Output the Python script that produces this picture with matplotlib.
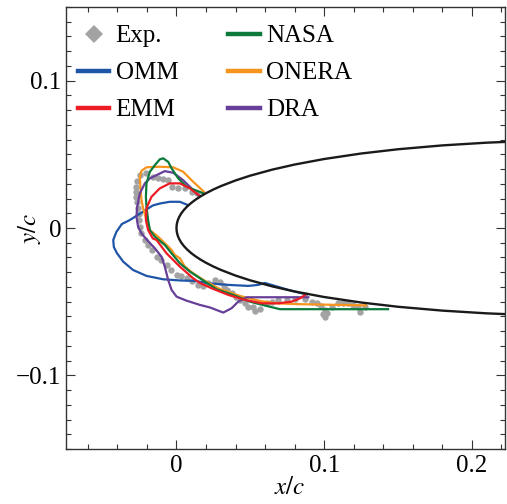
import numpy as np
import matplotlib
matplotlib.use('Agg')
import matplotlib.pyplot as plt
from matplotlib.lines import Line2D
from matplotlib.ticker import MultipleLocator

plt.rcParams['font.family'] = ['Liberation Serif', 'DejaVu Serif']
plt.rcParams['mathtext.fontset'] = 'stix'

# NACA 0012 half-thickness ordinates (x/c, y/c)
foil_x = [0.0, 0.0002, 0.0008, 0.0018, 0.0032, 0.005, 0.0072, 0.0098, 0.0128, 0.0162,
          0.02, 0.025, 0.03, 0.04, 0.05, 0.065, 0.08, 0.1, 0.125, 0.15, 0.18, 0.21, 0.24]
foil_y = [0.0, 0.002504, 0.004978, 0.007421, 0.009833, 0.012213, 0.014561, 0.016874,
          0.019152, 0.021394, 0.023598, 0.026147, 0.028402, 0.032277, 0.035547, 0.039658,
          0.043072, 0.046828, 0.050554, 0.053452, 0.056066, 0.057916, 0.059131]

# experimental ice shape
exp_x = [0.0136, 0.0102, 0.0057, 0.0012, -0.0033, -0.0056, -0.0092, -0.0124, -0.0160, -0.0203,
         -0.0248, -0.0265, -0.0271, -0.0271, -0.0271, -0.0265, -0.0260, -0.0255, -0.0252, -0.0248,
         -0.0237, -0.0214, -0.0192, -0.0167, -0.0135, -0.0106, -0.0067, -0.0038, 0.0001, 0.0033,
         0.0068, 0.0102, 0.0147, 0.0179, 0.0215, 0.0260, 0.0294, 0.0321, 0.0340, 0.0374,
         0.0403, 0.0430, 0.0464, 0.0486, 0.0520, 0.0532, 0.0565, 0.0611, 0.0645, 0.0690,
         0.0746, 0.0803, 0.0871, 0.0916, 0.0950, 0.0979, 0.1006, 0.1018, 0.0995, 0.1006,
         0.1052, 0.1096, 0.1128, 0.1164, 0.1196, 0.1232, 0.1243, 0.1277]
exp_y = [0.0235, 0.0246, 0.0269, 0.0269, 0.0280, 0.0325, 0.0336, 0.0337, 0.0349, 0.0371,
         0.0359, 0.0319, 0.0280, 0.0246, 0.0212, 0.0176, 0.0136, 0.0095, 0.0054, 0.0009,
         -0.0036, -0.0081, -0.0115, -0.0149, -0.0195, -0.0220, -0.0251, -0.0285, -0.0319, -0.0329,
         -0.0341, -0.0359, -0.0386, -0.0393, -0.0375, -0.0353, -0.0364, -0.0393, -0.0420, -0.0443,
         -0.0468, -0.0488, -0.0511, -0.0534, -0.0538, -0.0563, -0.0549, -0.0511, -0.0500, -0.0488,
         -0.0488, -0.0483, -0.0483, -0.0500, -0.0511, -0.0529, -0.0556, -0.0578, -0.0583, -0.0603,
         -0.0534, -0.0511, -0.0508, -0.0511, -0.0522, -0.0534, -0.0567, -0.0534]

omm_x = [0.0077, 0.0023, -0.0045, -0.0113, -0.0160, -0.0226, -0.0316, -0.0370, -0.0407, -0.0428,
         -0.0424, -0.0404, -0.0361, -0.0294, -0.0203, -0.0090, 0.0023, 0.0125, 0.0215, 0.0351,
         0.0486, 0.0554, 0.0599, 0.0667, 0.0757, 0.0848, 0.0884]
omm_y = [0.0156, 0.0178, 0.0178, 0.0166, 0.0153, 0.0111, 0.0054, 0.0027, -0.0027, -0.0081,
         -0.0129, -0.0169, -0.0228, -0.0285, -0.0325, -0.0348, -0.0356, -0.0359, -0.0375, -0.0386,
         -0.0393, -0.0386, -0.0373, -0.0393, -0.0420, -0.0443, -0.0451]

emm_x = [0.0159, 0.0091, 0.0023, -0.0045, -0.0113, -0.0169, -0.0203, -0.0207, -0.0192, -0.0160,
         -0.0135, -0.0067, 0.0023, 0.0113, 0.0159, 0.0238, 0.0351, 0.0464, 0.0577, 0.0690,
         0.0780, 0.0837, 0.0882]
emm_y = [0.0217, 0.0269, 0.0303, 0.0303, 0.0269, 0.0212, 0.0134, 0.0054, -0.0014, -0.0071,
         -0.0081, -0.0172, -0.0262, -0.0341, -0.0373, -0.0409, -0.0454, -0.0488, -0.0511, -0.0511,
         -0.0500, -0.0477, -0.0447]

nasa_x = [0.0179, 0.0068, 0.0012, -0.0033, -0.0056, -0.0090, -0.0113, -0.0146, -0.0180, -0.0203,
          -0.0207, -0.0203, -0.0192, -0.0180, -0.0146, -0.0079, -0.0033, 0.0023, 0.0091, 0.0159,
          0.0272, 0.0384, 0.0498, 0.0611, 0.0701, 0.1433]
nasa_y = [0.0237, 0.0280, 0.0337, 0.0405, 0.0449, 0.0473, 0.0466, 0.0427, 0.0382, 0.0303,
          0.0212, 0.0144, 0.0054, -0.0014, -0.0059, -0.0115, -0.0172, -0.0239, -0.0296, -0.0341,
          -0.0416, -0.0454, -0.0500, -0.0529, -0.0551, -0.0551]

onera_x = [0.0186, 0.0113, 0.0045, -0.0022, -0.0113, -0.0203, -0.0237, -0.0248, -0.0243, -0.0237,
           -0.0226, -0.0203, -0.0180, -0.0124, -0.0067, -0.0033, -0.0011, 0.0023, 0.0057, 0.0113,
           0.0193, 0.0294, 0.0430, 0.0565, 0.0687, 0.0837, 0.1284]
onera_y = [0.0246, 0.0314, 0.0382, 0.0412, 0.0416, 0.0412, 0.0388, 0.0348, 0.0258, 0.0190,
           0.0134, 0.0054, -0.0014, -0.0059, -0.0115, -0.0149, -0.0183, -0.0205, -0.0262, -0.0307,
           -0.0359, -0.0414, -0.0461, -0.0495, -0.0512, -0.0517, -0.0525]

dra_x = [0.0145, 0.0125, 0.0045, -0.0022, -0.0079, -0.0135, -0.0180, -0.0214, -0.0248, -0.0266,
         -0.0271, -0.0260, -0.0237, -0.0203, -0.0146, -0.0101, -0.0079, -0.0056, -0.0033, 0.0001,
         0.0068, 0.0159, 0.0226, 0.0317, 0.0374, 0.0418, 0.0475, 0.0893]
dra_y = [0.0224, 0.0246, 0.0325, 0.0375, 0.0386, 0.0359, 0.0337, 0.0303, 0.0235, 0.0144,
         0.0077, 0.0009, -0.0036, -0.0077, -0.0138, -0.0195, -0.0262, -0.0353, -0.0420, -0.0466,
         -0.0493, -0.0522, -0.0539, -0.0574, -0.0544, -0.0500, -0.0470, -0.0470]

c_exp = '#a3a3a3'
c_omm = '#1f55a8'
c_emm = '#ec1c24'
c_nasa = '#0b7a3b'
c_onera = '#f7941d'
c_dra = '#673f98'

fig = plt.figure(figsize=(5.07, 5.04), dpi=100)
ax = fig.add_axes([0.1296, 0.1091, 0.8665, 0.877])

lw = 1.6
ax.plot(exp_x, exp_y, 'o', color=c_exp, markersize=4.6, markeredgewidth=0, zorder=2)
ax.plot(omm_x, omm_y, color=c_omm, lw=lw, zorder=3)
ax.plot(onera_x, onera_y, color=c_onera, lw=lw, zorder=3)
ax.plot(dra_x, dra_y, color=c_dra, lw=lw, zorder=3)
ax.plot(nasa_x, nasa_y, color=c_nasa, lw=lw, zorder=3)
ax.plot(emm_x, emm_y, color=c_emm, lw=lw, zorder=4)

# airfoil contour: upper surface back to front, then lower surface
fx = np.array(foil_x)
fy = np.array(foil_y)
ax.plot(np.concatenate([fx[::-1], fx[1:]]), np.concatenate([fy[::-1], -fy[1:]]),
        color='#1a1a1a', lw=1.7, zorder=5)

ax.set_xlim(-0.075, 0.2225)
ax.set_ylim(-0.15, 0.15)
ax.set_xticks([0, 0.1, 0.2])
ax.set_xticklabels(['0', '0.1', '0.2'])
ax.set_yticks([-0.1, 0, 0.1])
ax.set_yticklabels(['\u22120.1', '0', '0.1'])
ax.xaxis.set_minor_locator(MultipleLocator(0.02))
ax.yaxis.set_minor_locator(MultipleLocator(0.01))
ax.tick_params(which='both', direction='in', top=True, right=True, color='#333333', width=0.8)
ax.tick_params(which='major', length=6.5, labelsize=18)
ax.tick_params(axis='x', pad=4)
ax.tick_params(axis='y', pad=3)
ax.tick_params(which='minor', length=3.5)
for s in ax.spines.values():
    s.set_linewidth(1.0)
    s.set_color('#333333')

ax.set_xlabel('$x/c$', fontsize=18)
ax.set_ylabel('$y/c$', fontsize=18)
ax.xaxis.set_label_coords(0.51, -0.064)
ax.yaxis.set_label_coords(-0.052, 0.5)

handles = [
    Line2D([], [], ls='none', marker='D', color=c_exp, markersize=9, markeredgewidth=0),
    Line2D([], [], color=c_omm, lw=3.2),
    Line2D([], [], color=c_emm, lw=3.2),
    Line2D([], [], color=c_nasa, lw=3.2),
    Line2D([], [], color=c_onera, lw=3.2),
    Line2D([], [], color=c_dra, lw=3.2),
]
labels = ['Exp.', 'OMM', 'EMM', 'NASA', 'ONERA', 'DRA']
ax.legend(handles, labels, ncol=2, loc='upper left', bbox_to_anchor=(0.0, 0.988),
          frameon=False, fontsize=18, handlelength=1.25, handletextpad=0.25,
          columnspacing=2.0, labelspacing=0.58, borderaxespad=0.3, borderpad=0.2)

fig.savefig('out.png', dpi=100)
